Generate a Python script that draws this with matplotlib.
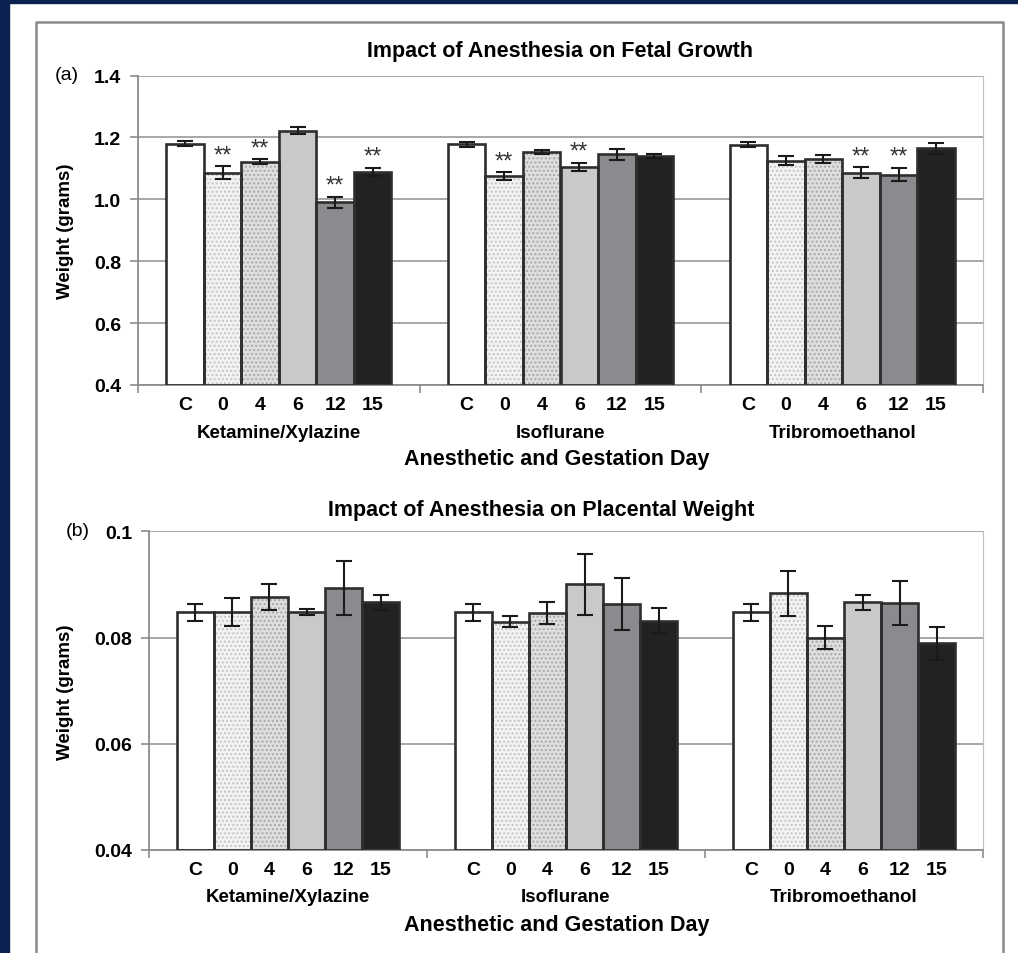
import matplotlib
matplotlib.use("Agg")
import matplotlib.pyplot as plt
import numpy as np
from matplotlib.patches import Rectangle
from matplotlib.lines import Line2D

plt.rcParams['font.family'] = ['Liberation Sans', 'DejaVu Sans']

# data
groups = ["Ketamine/Xylazine", "Isoflurane", "Tribromoethanol"]
days = ["C", "0", "4", "6", "12", "15"]

fetal_mean = [
    [1.180, 1.086, 1.122, 1.222, 0.990, 1.089],
    [1.178, 1.075, 1.153, 1.105, 1.146, 1.141],
    [1.177, 1.125, 1.129, 1.086, 1.080, 1.165],
]
fetal_err = [
    [0.008, 0.020, 0.008, 0.010, 0.018, 0.013],
    [0.008, 0.013, 0.007, 0.013, 0.018, 0.006],
    [0.008, 0.014, 0.013, 0.018, 0.022, 0.018],
]
fetal_sig = [
    [False, True, True, False, True, True],
    [False, True, False, True, False, False],
    [False, False, False, True, True, False],
]

plac_mean = [
    [0.0848, 0.0848, 0.0876, 0.0848, 0.0893, 0.0866],
    [0.0848, 0.0830, 0.0846, 0.0900, 0.0864, 0.0832],
    [0.0848, 0.0883, 0.0800, 0.0866, 0.0865, 0.0789],
]
plac_err = [
    [0.0016, 0.0027, 0.0024, 0.0005, 0.0051, 0.0015],
    [0.0016, 0.0010, 0.0021, 0.0057, 0.0049, 0.0023],
    [0.0016, 0.0042, 0.0021, 0.0015, 0.0042, 0.0031],
]

# bar styles per gestation day
fills = ['#ffffff', '#f3f3f3', '#dedede', '#c9c9cb', '#8b8b8f', '#222222']
hatch_cols = [None, '#c4c4c4', '#a8a8a8', None, None, None]

W, H = 1018, 954
fig = plt.figure(figsize=(W / 100, H / 100), dpi=100)
fig.patch.set_facecolor('white')

def fx(x):
    return x / W

def fy(y):
    return 1 - y / H

# navy border and grey frame
navy = '#0b2250'
fig.patches.append(Rectangle((0, 0), fx(8.5), 1, transform=fig.transFigure, color=navy, zorder=0))
fig.patches.append(Rectangle((0, fy(3.5)), 1, 1 - fy(3.5), transform=fig.transFigure, color=navy, zorder=0))
fig.lines.append(Line2D([fx(36), fx(36), fx(1003), fx(1003)], [0, fy(22.5), fy(22.5), 0],
                        transform=fig.transFigure, color='#8a8a8a', lw=1.8))

bw = 0.8 / 6
grey = '#8c8c8c'


def panel(rect, means, errs, ylim, yticks, fmt, sig=None):
    l, r, t, b = rect
    ax = fig.add_axes([fx(l), fy(b), fx(r) - fx(l), fy(t) - fy(b)])
    ax.set_xlim(-0.5, 2.5)
    ax.set_ylim(*ylim)
    ax.set_yticks(yticks)
    ax.set_yticklabels([fmt(v) for v in yticks], fontsize=14, fontweight='bold')
    ax.yaxis.grid(True, color='#a0a0a0', lw=1.3)
    ax.set_axisbelow(True)
    for s in ['left', 'bottom']:
        ax.spines[s].set_color(grey)
        ax.spines[s].set_linewidth(1.3)
    ax.spines['top'].set_visible(False)
    ax.spines['right'].set_color('#c0c0c0')
    ax.tick_params(axis='y', direction='out', length=6, width=1.2, color=grey, pad=6)

    pos = []
    labs = []
    for g in range(3):
        for k in range(6):
            x = g + (k - 2.5) * bw
            pos.append(x)
            labs.append(days[k])
            m = means[g][k]
            e = errs[g][k]
            if hatch_cols[k]:
                ax.bar(x, m - ylim[0], bw, bottom=ylim[0], color=fills[k],
                       edgecolor=hatch_cols[k], hatch='....', lw=0, zorder=2)
            else:
                ax.bar(x, m - ylim[0], bw, bottom=ylim[0], color=fills[k], lw=0, zorder=2)
            ax.bar(x, m - ylim[0], bw, bottom=ylim[0], fill=False,
                   edgecolor='#2e2e2e', lw=1.9, zorder=3)
            ax.errorbar(x, m, yerr=e, fmt='none', ecolor='#1a1a1a',
                        elinewidth=1.5, capsize=6, capthick=1.5, zorder=4)
            if sig is not None and sig[g][k]:
                ax.annotate('**', (x, m + e), xytext=(0, 0), textcoords='offset pixels',
                            ha='center', va='bottom', fontsize=17, color='#333333')
    ax.set_xticks(pos)
    ax.set_xticklabels(labs, fontsize=14, fontweight='bold')
    ax.tick_params(axis='x', which='major', length=0, pad=8)
    ax.set_xticks([-0.5, 0.5, 1.5, 2.5], minor=True)
    ax.tick_params(axis='x', which='minor', length=6, width=1.2, color=grey)
    for g in range(3):
        ax.annotate(groups[g], (g, 0), xycoords=ax.get_xaxis_transform(),
                    xytext=(0, -47), textcoords='offset pixels',
                    ha='center', va='center', fontsize=13.5, fontweight='bold')
    return ax


ax1 = panel((138, 983, 76.5, 386), fetal_mean, fetal_err, (0.4, 1.4),
            [0.4, 0.6, 0.8, 1.0, 1.2, 1.4], lambda v: f"{v:.1f}", fetal_sig)
ax2 = panel((149, 983, 532.3, 851), plac_mean, plac_err, (0.04, 0.1),
            [0.04, 0.06, 0.08, 0.1], lambda v: f"{v:.2f}" if v < 0.1 else "0.1")

# titles and labels
fig.text(fx(560), fy(51), "Impact of Anesthesia on Fetal Growth", ha='center', va='center',
         fontsize=15.5, fontweight='bold')
fig.text(fx(541), fy(511), "Impact of Anesthesia on Placental Weight", ha='center', va='center',
         fontsize=15.5, fontweight='bold')
fig.text(fx(55), fy(76), "(a)", ha='left', va='center', fontsize=14)
fig.text(fx(66), fy(532), "(b)", ha='left', va='center', fontsize=14)
fig.text(fx(66), fy(231), "Weight (grams)", rotation=90, ha='center', va='center',
         fontsize=13.5, fontweight='bold')
fig.text(fx(66), fy(692), "Weight (grams)", rotation=90, ha='center', va='center',
         fontsize=13.5, fontweight='bold')
fig.text(fx(557), fy(460), "Anesthetic and Gestation Day", ha='center', va='center',
         fontsize=15.5, fontweight='bold')
fig.text(fx(557), fy(926), "Anesthetic and Gestation Day", ha='center', va='center',
         fontsize=15.5, fontweight='bold')

fig.savefig("out.png", dpi=100, facecolor='white')
